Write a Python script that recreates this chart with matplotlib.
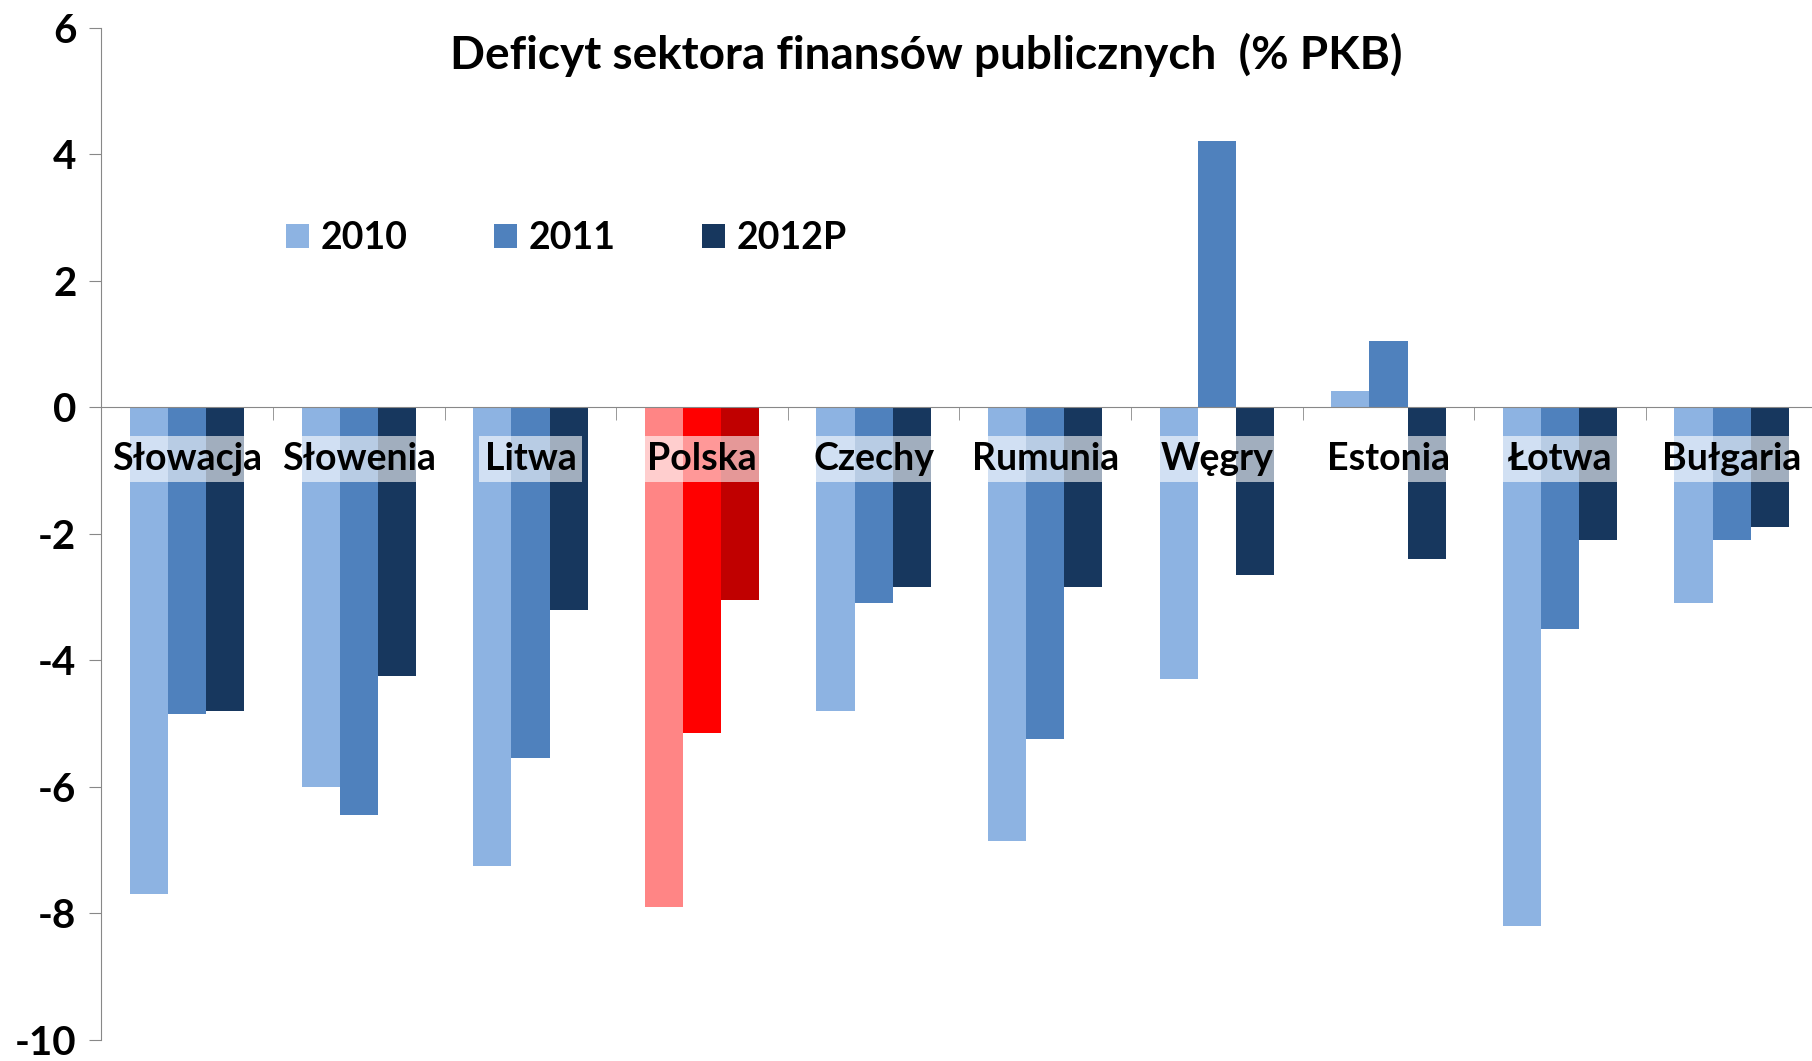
import matplotlib
import matplotlib.pyplot as plt
import numpy as np

matplotlib.use("Agg")

plt.rcParams["font.family"] = ["Lato", "DejaVu Sans"]

countries = ["Słowacja", "Słowenia", "Litwa", "Polska", "Czechy",
             "Rumunia", "Węgry", "Estonia", "Łotwa", "Bułgaria"]
years = ["2010", "2011", "2012P"]
deficit_2010 = [-7.7, -6.0, -7.25, -7.9, -4.8, -6.85, -4.3, 0.25, -8.2, -3.1]
deficit_2011 = [-4.85, -6.45, -5.55, -5.15, -3.1, -5.25, 4.2, 1.05, -3.5, -2.1]
deficit_2012 = [-4.8, -4.25, -3.2, -3.05, -2.85, -2.85, -2.65, -2.4, -2.1, -1.9]
highlight = "Polska"

blues = ["#8db3e2", "#4f81bd", "#17375e"]
reds = ["#ff8585", "#ff0000", "#c00000"]

fig = plt.figure(figsize=(18.12, 10.61), dpi=100)
ax = fig.add_axes([0.056, 0.02, 0.947, 0.954])

x = np.arange(len(countries))
width = 1 / 4.5
series = [deficit_2010, deficit_2011, deficit_2012]
for i, (name, vals) in enumerate(zip(years, series)):
    colors = [reds[i] if c == highlight else blues[i] for c in countries]
    ax.bar(x + (i - 1) * width, vals, width, color=colors, label=name,
           linewidth=0, zorder=2)

ax.set_xlim(-0.5, len(countries) - 0.5)
ax.set_ylim(-10, 6)
ax.set_yticks(np.arange(-10, 7, 2))
ax.set_yticklabels([str(v) for v in range(-10, 7, 2)],
                   fontsize=29, fontweight="bold")

# category axis sits on the zero line, ticks between groups
for side in ["top", "right"]:
    ax.spines[side].set_visible(False)
ax.spines["bottom"].set_position(("data", 0))
ax.spines["bottom"].set_color("#888888")
ax.spines["left"].set_color("#888888")
ax.set_xticks([])
ax.set_xticks(np.arange(0.5, len(countries) - 0.5), minor=True)
ax.tick_params(axis="x", which="minor", length=9, direction="out",
               color="#888888", labelbottom=False)
ax.tick_params(axis="y", length=9, color="#888888", pad=9)

for xi, name in zip(x, countries):
    ax.text(xi, -0.82, name, ha="center", va="center", fontsize=27,
            fontweight="bold", zorder=3,
            bbox=dict(boxstyle="square,pad=0.16", facecolor="white",
                      edgecolor="none", alpha=0.6))

fig.text(0.511, 0.948, "Deficyt sektora finansów publicznych  (% PKB)",
         ha="center", va="center", fontsize=33, fontweight="bold")

leg = ax.legend(loc="center left", bbox_to_anchor=(0.088, 0.792), ncol=3,
                frameon=False, fontsize=27, handlelength=0.62,
                handleheight=0.62, handletextpad=0.3, columnspacing=2.3)
for t in leg.get_texts():
    t.set_fontweight("bold")

fig.savefig("out.png", dpi=100)
plt.close(fig)
